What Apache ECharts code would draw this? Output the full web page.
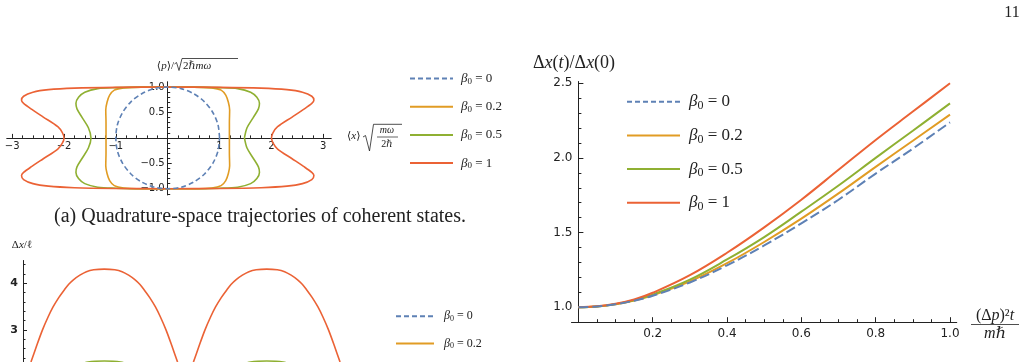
<!DOCTYPE html>
<html>
<head>
<meta charset="utf-8">
<script src="https://cdn.jsdelivr.net/npm/echarts@6/dist/echarts.min.js"></script>
<style>
  html, body { margin: 0; padding: 0; background: #fff; }
  #main { width: 1027px; height: 362px; }
</style>
</head>
<body>
<div id="main"></div>
<script>
// colours (Mathematica default palette)
var cBlue = '#5E81B5', cOrange = '#E19C24', cGreen = '#8FB032', cRed = '#EB6235';
var names = ['β₀ = 0', 'β₀ = 0.2', 'β₀ = 0.5', 'β₀ = 1'];

// (a) quadrature-space trajectories, points [x, p]
var qB00 = [[1,0],[0.97,0.26],[0.87,0.5],[0.71,0.71],[0.5,0.87],[0.26,0.97],[0,1],[-0.26,0.97],[-0.5,0.87],[-0.71,0.71],
  [-0.87,0.5],[-0.97,0.26],[-1,0],[-0.97,-0.26],[-0.87,-0.5],[-0.71,-0.71],[-0.5,-0.87],[-0.26,-0.97],[0,-1],
  [0.26,-0.97],[0.5,-0.87],[0.71,-0.71],[0.87,-0.5],[0.97,-0.26],[1,0]];
var qB02 = [[1.19,0],[1.19,0.3],[1.195,0.55],[1.17,0.7],[1.12,0.84],[1.03,0.94],[0.85,0.985],[0.5,1.0],[0,1.0],
  [-0.5,1.0],[-0.85,0.985],[-1.03,0.94],[-1.12,0.84],[-1.17,0.7],[-1.195,0.55],[-1.19,0.3],[-1.19,0],[-1.19,-0.3],
  [-1.195,-0.55],[-1.17,-0.7],[-1.12,-0.84],[-1.03,-0.94],[-0.85,-0.985],[-0.5,-1.0],[0,-1.0],[0.5,-1.0],[0.85,-0.985],
  [1.03,-0.94],[1.12,-0.84],[1.17,-0.7],[1.195,-0.55],[1.19,-0.3],[1.19,0]];
var qB05 = [[1.48,0],[1.53,0.2],[1.65,0.4],[1.75,0.57],[1.77,0.68],[1.72,0.8],[1.6,0.9],[1.35,0.97],[1.0,0.99],[0.5,1.0],[0,1.0],
  [-0.5,1.0],[-1.0,0.99],[-1.35,0.97],[-1.6,0.9],[-1.72,0.8],[-1.77,0.68],[-1.75,0.57],[-1.65,0.4],[-1.53,0.2],[-1.48,0],
  [-1.53,-0.2],[-1.65,-0.4],[-1.75,-0.57],[-1.77,-0.68],[-1.72,-0.8],[-1.6,-0.9],[-1.35,-0.97],[-1.0,-0.99],[-0.5,-1.0],[0,-1.0],
  [0.5,-1.0],[1.0,-0.99],[1.35,-0.97],[1.6,-0.9],[1.72,-0.8],[1.77,-0.68],[1.75,-0.57],[1.65,-0.4],[1.53,-0.2],[1.48,0]];
var qB1 = [[2.0,0],[2.03,0.1],[2.12,0.22],[2.4,0.41],[2.62,0.56],[2.78,0.68],[2.82,0.74],[2.78,0.82],[2.6,0.9],[2.3,0.95],[1.8,0.98],[1.0,0.995],[0,1.0],
  [-1.0,0.995],[-1.8,0.98],[-2.3,0.95],[-2.6,0.9],[-2.78,0.82],[-2.82,0.74],[-2.78,0.68],[-2.62,0.56],[-2.4,0.41],[-2.12,0.22],[-2.03,0.1],[-2.0,0],
  [-2.03,-0.1],[-2.12,-0.22],[-2.4,-0.41],[-2.62,-0.56],[-2.78,-0.68],[-2.82,-0.74],[-2.78,-0.82],[-2.6,-0.9],[-2.3,-0.95],[-1.8,-0.98],[-1.0,-0.995],[0,-1.0],
  [1.0,-0.995],[1.8,-0.98],[2.3,-0.95],[2.6,-0.9],[2.78,-0.82],[2.82,-0.74],[2.78,-0.68],[2.62,-0.56],[2.4,-0.41],[2.12,-0.22],[2.03,-0.1],[2.0,0]];
var qMajorX = [-3, -2, -1, 1, 2, 3];
var qMinorX = [-2.8,-2.6,-2.4,-2.2,-1.8,-1.6,-1.4,-1.2,-0.8,-0.6,-0.4,-0.2,0.2,0.4,0.6,0.8,1.2,1.4,1.6,1.8,2.2,2.4,2.6,2.8];
var qMajorY = [-1, -0.5, 0.5, 1];
var qMinorY = [-1.1,-0.9,-0.8,-0.7,-0.6,-0.4,-0.3,-0.2,-0.1,0.1,0.2,0.3,0.4,0.6,0.7,0.8,0.9];

// spreading of the wave packet, right panel
var spT = [0, 0.05, 0.1, 0.15, 0.2, 0.3, 0.4, 0.5, 0.6, 0.7, 0.8, 0.9, 1.0];
var spB00 = [1.0, 1.005, 1.02, 1.044, 1.077, 1.166, 1.281, 1.414, 1.562, 1.72, 1.895, 2.062, 2.238];
var spB02 = [1.0, 1.005, 1.02, 1.045, 1.08, 1.173, 1.295, 1.437, 1.593, 1.762, 1.94, 2.115, 2.29];
var spB05 = [1.0, 1.005, 1.021, 1.047, 1.085, 1.185, 1.32, 1.47, 1.64, 1.815, 2.0, 2.182, 2.365];
var spB1 = [1.0, 1.006, 1.023, 1.052, 1.097, 1.215, 1.365, 1.535, 1.72, 1.92, 2.12, 2.31, 2.5];
var spMajorX = [0.2, 0.4, 0.6, 0.8, 1.0];
var spMinorX = [0.05,0.1,0.15,0.25,0.3,0.35,0.45,0.5,0.55,0.65,0.7,0.75,0.85,0.9,0.95];
var spMajorY = [1.0, 1.5, 2.0, 2.5];
var spMinorY = [1.1,1.2,1.3,1.4,1.6,1.7,1.8,1.9,2.1,2.2,2.3,2.4];

// Δx/ℓ panel (bottom, cut off by the page)
var dxT = [0, 0.05, 0.1, 0.17, 0.24, 0.31, 0.37, 0.44, 0.51, 0.56, 0.62, 0.7, 0.78, 0.87, 1.0,
  1.13, 1.22, 1.3, 1.38, 1.44, 1.49, 1.56, 1.63, 1.69, 1.76, 1.83, 1.9, 1.95, 2.0,
  2.05, 2.1, 2.17, 2.24, 2.31, 2.37, 2.44, 2.51, 2.56, 2.62, 2.7, 2.78, 2.87, 3.0,
  3.13, 3.22, 3.3, 3.38, 3.44, 3.49, 3.56, 3.63, 3.69, 3.76, 3.83, 3.9, 3.95, 4.0];
var dxB1 = [1.85, 2.08, 2.32, 2.67, 3.0, 3.28, 3.49, 3.69, 3.86, 3.97, 4.07, 4.17, 4.245, 4.285, 4.3,
  4.285, 4.245, 4.17, 4.07, 3.97, 3.86, 3.69, 3.49, 3.28, 3.0, 2.67, 2.32, 2.08, 1.85,
  2.08, 2.32, 2.67, 3.0, 3.28, 3.49, 3.69, 3.86, 3.97, 4.07, 4.17, 4.245, 4.285, 4.3,
  4.285, 4.245, 4.17, 4.07, 3.97, 3.86, 3.69, 3.49, 3.28, 3.0, 2.67, 2.32, 2.08, 1.85];
var dxT05 = [0.5, 0.65, 0.8, 1.0, 1.2, 1.35, 1.5, 2.5, 2.65, 2.8, 3.0, 3.2, 3.35, 3.5];
var dxB05 = [1.9, 2.2, 2.31, 2.333, 2.31, 2.2, 1.9, 1.9, 2.2, 2.31, 2.333, 2.31, 2.2, 1.9];
var dxMajorY = [3, 4];
var dxMinorY = [2.4, 2.6, 2.8, 3.2, 3.4, 3.6, 3.8, 4.2, 4.4];

function pairs(xs, ys) {
  var out = [];
  for (var i = 0; i < xs.length; i++) out.push([xs[i], ys[i]]);
  return out;
}
function minus(v, d) {
  var s = Math.abs(v).toFixed(d);
  return v < 0 ? '\u2212' + s : s;
}

var axisColor = '#222';
var serif = '"Liberation Serif", "DejaVu Serif", serif';
var sans = '"DejaVu Sans", sans-serif';

function valAxis(o) {
  var a = {
    type: 'value',
    splitLine: { show: false },
    axisLine: { show: true, onZero: false, lineStyle: { color: axisColor, width: 1 } },
    axisTick: { show: true, inside: true, lineStyle: { color: axisColor } },
    axisLabel: { show: false }
  };
  for (var k in o) a[k] = o[k];
  return a;
}
function ticks(len, vals) {
  return { show: true, inside: true, length: len, customValues: vals, lineStyle: { color: axisColor } };
}

var legendRich = function (size, pad) {
  return {
    b: { fontFamily: serif, fontStyle: 'italic', fontSize: size, color: '#222', padding: [0, 0, 0, pad], lineHeight: size + 3 },
    s: { fontFamily: serif, fontSize: Math.round(size * 0.68), color: '#222', padding: [Math.round(size * 0.45), 0, 0, 0], lineHeight: size + 3 },
    e: { fontFamily: serif, fontSize: size, color: '#222', lineHeight: size + 3 }
  };
};
function legendFmt(name) {
  return '{b|β}{s|0}{e| = ' + name.split('= ')[1] + '}';
}

// panel (a): x in [-3.1, 3.15] over 324px, p in [-1.12, 1.1] over 112.8px; axes cross at the origin
var offXa = -(112.8 * 1.12 / 2.22);
var offYa = -(324 * 3.1 / 6.25);
// right panel: y axis sits at t = 0
var offYb = -(385 * 0.018 / 1.036);

var option = {
  animation: false,
  backgroundColor: '#fff',
  grid: [
    { left: 7, top: 82, width: 324, height: 112.8, outerBoundsMode: 'none', containLabel: false },
    { left: 571.7, top: 81.7, width: 385, height: 240.5, outerBoundsMode: 'none', containLabel: false },
    { left: 23, top: 260.7, width: 325, height: 106.5, outerBoundsMode: 'none', containLabel: false }
  ],
  xAxis: [
    valAxis({ gridIndex: 0, min: -3.1, max: 3.15, position: 'bottom', offset: offXa,
      axisTick: ticks(4, qMajorX),
      axisLabel: { show: true, customValues: qMajorX, margin: 4, fontSize: 10, fontFamily: sans, color: '#222',
        formatter: function (v) { return minus(v, 0); } } }),
    valAxis({ gridIndex: 0, min: -3.1, max: 3.15, position: 'bottom', offset: offXa, axisTick: ticks(2.5, qMinorX) }),
    valAxis({ gridIndex: 1, min: -0.018, max: 1.018, position: 'bottom',
      axisTick: ticks(5, spMajorX),
      axisLabel: { show: true, customValues: spMajorX, margin: 6, fontSize: 12, fontFamily: sans, color: '#222',
        formatter: function (v) { return v.toFixed(1); } } }),
    valAxis({ gridIndex: 1, min: -0.018, max: 1.018, position: 'bottom', axisTick: ticks(3, spMinorX) }),
    valAxis({ gridIndex: 2, min: 0, max: 4, show: false })
  ],
  yAxis: [
    valAxis({ gridIndex: 0, min: -1.12, max: 1.1, position: 'left', offset: offYa,
      axisTick: ticks(4, qMajorY),
      axisLabel: { show: true, customValues: qMajorY, margin: 3, fontSize: 10, fontFamily: sans, color: '#222',
        formatter: function (v) { return minus(v, 1); } } }),
    valAxis({ gridIndex: 0, min: -1.12, max: 1.1, position: 'left', offset: offYa, axisTick: ticks(2.5, qMinorY) }),
    valAxis({ gridIndex: 1, min: 0.9, max: 2.51, position: 'left', offset: offYb,
      axisTick: ticks(5, spMajorY),
      axisLabel: { show: true, customValues: spMajorY, margin: 6, fontSize: 12, fontFamily: sans, color: '#222',
        formatter: function (v) { return v.toFixed(1); } } }),
    valAxis({ gridIndex: 1, min: 0.9, max: 2.51, position: 'left', offset: offYb, axisTick: ticks(3, spMinorY) }),
    valAxis({ gridIndex: 2, min: 2.2, max: 4.48, position: 'left',
      axisTick: ticks(4, dxMajorY),
      axisLabel: { show: true, customValues: dxMajorY, margin: 5, fontSize: 11, fontFamily: sans, color: '#222', fontWeight: 'bold' } }),
    valAxis({ gridIndex: 2, min: 2.2, max: 4.48, position: 'left', axisTick: ticks(2.5, dxMinorY) })
  ],
  legend: [
    { data: names, orient: 'vertical', left: 409, top: 71, padding: 0, itemWidth: 43, itemHeight: 16, itemGap: 13.2,
      formatter: legendFmt, textStyle: { rich: legendRich(13, 3) }, itemStyle: { opacity: 0 } },
    { data: names, orient: 'vertical', left: 626, top: 91.7, padding: 0, itemWidth: 53, itemHeight: 20, itemGap: 13.7,
      formatter: legendFmt, textStyle: { rich: legendRich(17, 4) }, itemStyle: { opacity: 0 } },
    { data: names.slice(0, 2), orient: 'vertical', left: 395, top: 309.7, padding: 0, itemWidth: 38, itemHeight: 14, itemGap: 14.3,
      formatter: legendFmt, textStyle: { rich: legendRich(12, 5) }, itemStyle: { opacity: 0 } }
  ],
  graphic: [
    { type: 'text', style: { text: '11', x: 1012, y: 13, align: 'center', verticalAlign: 'middle', font: '16px ' + serif, fill: '#222' } },
    { type: 'text', style: { text: '(a) Quadrature-space trajectories of coherent states.', x: 260, y: 217, align: 'center', verticalAlign: 'middle', font: '20px ' + serif, fill: '#222' } },
    // <p>/sqrt(2 hbar m omega)
    { type: 'text', style: { text: '⟨{i|p}⟩/', x: 174, y: 66, align: 'right', verticalAlign: 'middle', font: '11px ' + serif, fill: '#222',
      rich: { i: { fontStyle: 'italic', fontSize: 11, fontFamily: serif } } } },
    { type: 'polyline', shape: { points: [[174.5, 64], [176.5, 62.5], [179, 70.5], [182, 58.5], [238, 58.5]] }, style: { stroke: '#222', lineWidth: 0.8, fill: null } },
    { type: 'text', style: { text: '2ℏ{i|mω}', x: 183, y: 66, align: 'left', verticalAlign: 'middle', font: '11px ' + serif, fill: '#222',
      rich: { i: { fontStyle: 'italic', fontSize: 11, fontFamily: serif } } } },
    // <x> sqrt(m omega / 2 hbar)
    { type: 'text', style: { text: '⟨{i|x}⟩', x: 347, y: 136, align: 'left', verticalAlign: 'middle', font: '11px ' + serif, fill: '#222',
      rich: { i: { fontStyle: 'italic', fontSize: 11, fontFamily: serif } } } },
    { type: 'polyline', shape: { points: [[363, 137], [365.5, 135.5], [369.5, 151], [373.5, 124.3], [402, 124.3]] }, style: { stroke: '#222', lineWidth: 0.8, fill: null } },
    { type: 'text', style: { text: 'mω', x: 387, y: 130.5, align: 'center', verticalAlign: 'middle', font: 'italic 10px ' + serif, fill: '#222' } },
    { type: 'line', shape: { x1: 377, y1: 137, x2: 398, y2: 137 }, style: { stroke: '#222', lineWidth: 0.7 } },
    { type: 'text', style: { text: '2ℏ', x: 387, y: 144, align: 'center', verticalAlign: 'middle', font: '10px ' + serif, fill: '#222' } },
    // right panel axis labels
    { type: 'text', style: { text: 'Δ{i|x}({i|t})/Δ{i|x}(0)', x: 533, y: 63, align: 'left', verticalAlign: 'middle', font: '18px ' + serif, fill: '#222',
      rich: { i: { fontStyle: 'italic', fontSize: 18, fontFamily: serif } } } },
    { type: 'text', style: { text: '(Δ{i|p})²{i|t}', x: 995, y: 316, align: 'center', verticalAlign: 'middle', font: '16px ' + serif, fill: '#222',
      rich: { i: { fontStyle: 'italic', fontSize: 16, fontFamily: serif } } } },
    { type: 'line', shape: { x1: 971, y1: 324.5, x2: 1019, y2: 324.5 }, style: { stroke: '#222', lineWidth: 0.8 } },
    { type: 'text', style: { text: '{i|m}ℏ', x: 995, y: 334, align: 'center', verticalAlign: 'middle', font: '16px ' + serif, fill: '#222',
      rich: { i: { fontStyle: 'italic', fontSize: 16, fontFamily: serif } } } },
    // bottom panel axis label
    { type: 'text', style: { text: 'Δ{i|x}/ℓ', x: 22, y: 245, align: 'center', verticalAlign: 'middle', font: '11px ' + serif, fill: '#222',
      rich: { i: { fontStyle: 'italic', fontSize: 11, fontFamily: serif } } } }
  ],
  series: []
};

var qData = [qB00, qB02, qB05, qB1];
var spData = [spB00, spB02, spB05, spB1];
var colors = [cBlue, cOrange, cGreen, cRed];
for (var i = 0; i < 4; i++) {
  option.series.push({
    name: names[i], type: 'line', xAxisIndex: 0, yAxisIndex: 0, data: qData[i],
    symbol: 'none', smooth: 0.3, z: i == 0 ? 5 : 3,
    lineStyle: { color: colors[i], width: 1.6, type: i == 0 ? [5, 3] : 'solid' },
    itemStyle: { color: colors[i] }
  });
}
for (var i = 0; i < 4; i++) {
  option.series.push({
    name: names[i], type: 'line', xAxisIndex: 2, yAxisIndex: 2, data: pairs(spT, spData[i]),
    symbol: 'none', smooth: 0.4, z: i == 0 ? 5 : 3,
    lineStyle: { color: colors[i], width: 2, type: i == 0 ? [10, 4] : 'solid' },
    itemStyle: { color: colors[i] }
  });
}
option.series.push({
  name: names[2], type: 'line', xAxisIndex: 4, yAxisIndex: 4, data: pairs(dxT05, dxB05),
  symbol: 'none', smooth: 0.4, lineStyle: { color: cGreen, width: 1.6 }, itemStyle: { color: cGreen }
});
option.series.push({
  name: names[3], type: 'line', xAxisIndex: 4, yAxisIndex: 4, data: pairs(dxT, dxB1),
  symbol: 'none', smooth: 0.3, lineStyle: { color: cRed, width: 1.6 }, itemStyle: { color: cRed }
});

var chart = echarts.init(document.getElementById('main'));
chart.setOption(option);
</script>
</body>
</html>
